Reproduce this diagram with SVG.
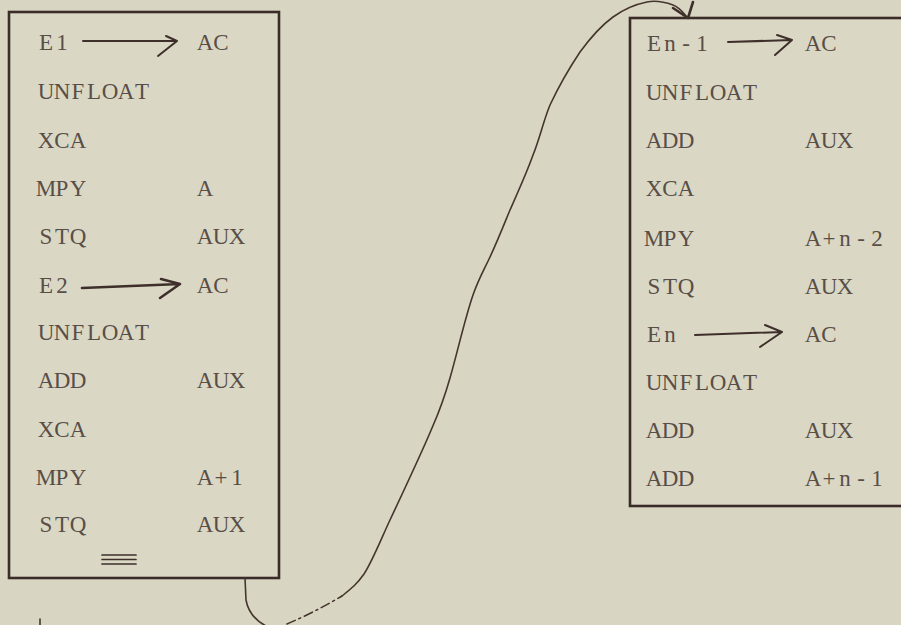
<svg xmlns="http://www.w3.org/2000/svg" width="901" height="625" viewBox="0 0 901 625">
  <style>
    .bg { fill: #d8d6c2; }
    .box { fill: #dad8c5; stroke: #3b2c29; stroke-width: 2.6; }
    .t { font-family: "Liberation Serif", "Times New Roman", serif; font-size: 23px; fill: #594e47; text-anchor: middle; }
    .ln { fill: none; stroke: #3e2f2b; stroke-width: 2; stroke-linecap: round; stroke-linejoin: round; }
    .cn { fill: none; stroke: #45352f; stroke-width: 1.6; stroke-linecap: round; stroke-linejoin: round; }
  </style>
  <rect class="bg" x="0" y="0" width="901" height="625"/>

  <g id="block-left">
    <rect class="box" x="9" y="12" width="270" height="566"/>
    <text class="t" x="46 62" y="50">E1</text>
    <path class="ln" d="M83,41 L177,41 M166,36 L177,41 L158,56"/>
    <text class="t" x="205 221" y="50">AC</text>
    <text class="t" x="46 62 78 94 110 126 142" y="99">UNFLOAT</text>
    <text class="t" x="46 62 78" y="148">XCA</text>
    <text class="t" x="46 62 78" y="196">MPY</text>
    <text class="t" x="205" y="196">A</text>
    <text class="t" x="46 62 78" y="244">STQ</text>
    <text class="t" x="205 221 237" y="244">AUX</text>
    <text class="t" x="46 62" y="293">E2</text>
    <path class="ln" d="M82,288 L180,284 M161,279 L180,284 L160,298" style="stroke-width:2.6"/>
    <text class="t" x="205 221" y="293">AC</text>
    <text class="t" x="46 62 78 94 110 126 142" y="340">UNFLOAT</text>
    <text class="t" x="46 62 78" y="388">ADD</text>
    <text class="t" x="205 221 237" y="388">AUX</text>
    <text class="t" x="46 62 78" y="437">XCA</text>
    <text class="t" x="46 62 78" y="485">MPY</text>
    <text class="t" x="205 221 237" y="485">A+1</text>
    <text class="t" x="46 62 78" y="532">STQ</text>
    <text class="t" x="205 221 237" y="532">AUX</text>
    <path class="ln" d="M102,555 L136,555 M102,559.5 L136,559.5 M102,564 L136,564" style="stroke-width:1.7"/>
  </g>

  <g id="block-right">
    <rect class="box" x="630" y="18" width="275" height="488"/>
    <text class="t" x="654 670 686 702" y="51">En-1</text>
    <path class="ln" d="M728,42 L792,40 M777,35 L792,40 L775,55"/>
    <text class="t" x="813 829" y="51">AC</text>
    <text class="t" x="654 670 686 702 718 734 750" y="100">UNFLOAT</text>
    <text class="t" x="654 670 686" y="148">ADD</text>
    <text class="t" x="813 829 845" y="148">AUX</text>
    <text class="t" x="654 670 686" y="196">XCA</text>
    <text class="t" x="654 670 686" y="246">MPY</text>
    <text class="t" x="813 829 845 861 877" y="246">A+n-2</text>
    <text class="t" x="654 670 686" y="294">STQ</text>
    <text class="t" x="813 829 845" y="294">AUX</text>
    <text class="t" x="654 670" y="342">En</text>
    <path class="ln" d="M695,335 L782,332 M765,325 L782,332 L760,347"/>
    <text class="t" x="813 829" y="342">AC</text>
    <text class="t" x="654 670 686 702 718 734 750" y="390">UNFLOAT</text>
    <text class="t" x="654 670 686" y="438">ADD</text>
    <text class="t" x="813 829 845" y="438">AUX</text>
    <text class="t" x="654 670 686" y="486">ADD</text>
    <text class="t" x="813 829 845 861 877" y="486">A+n-1</text>
  </g>

  <g id="connectors">
    <path class="cn" d="M245,578 L246,600 Q249,617 266,626"/>
    <path class="cn" d="M287,624 Q315,612 342,596" stroke-dasharray="9,4,2,4"/>
    <path class="cn" d="M342,596 C352,588 357,584 364,574 C372,562 382,537 390,520 C398,503 422,452 432,428 C440,410 446,392 450,378 C457,354 465,318 473,295 C479,278 484,270 490,257 C497,242 503,227 510,210 C518,192 527,172 533,155 C540,138 543,122 550,105 C558,88 570,67 580,52 C591,37 602,25 613,17 C624,9 637,4 647,2 C657,0 666,2.5 673,5 C680,7.5 685,15 687,17"/>
    <path class="ln" d="M673,8 L688,18 L693,2" style="stroke-width:2.6"/>
    <path class="cn" d="M40,619 L40,625"/>
  </g>
</svg>
